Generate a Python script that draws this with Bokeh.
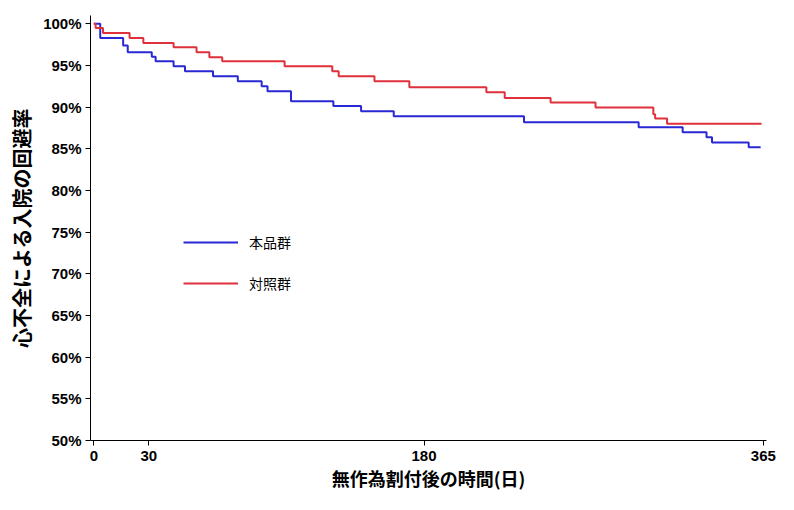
from bokeh.plotting import figure
from bokeh.models import Range1d, FixedTicker, Legend, LegendItem
from bokeh.embed import file_html
from bokeh.resources import INLINE

# ---- data ----
red_days = [0, 1, 5, 19.5, 27, 43.5, 56, 63, 70, 104, 130, 133.5, 153, 172, 214, 224, 249, 273.5, 305, 306, 312.5, 364]
red_pct = [100, 99.5, 98.9, 98.3, 97.7, 97.2, 96.6, 96.0, 95.5, 94.9, 94.3, 93.7, 93.1, 92.4, 91.8, 91.1, 90.55, 89.95, 89.15, 88.65, 88.0, 88.0]

blue_days = [0, 3.5, 16, 18.5, 31.6, 33.7, 43.5, 49.7, 65, 78.5, 91.5, 94.7, 107.5, 130.6, 145.7, 163.5, 234.5, 297, 321, 334, 337, 357, 363.5]
blue_pct = [100, 98.3, 97.4, 96.6, 96.06, 95.5, 94.9, 94.3, 93.7, 93.1, 92.5, 91.9, 90.7, 90.15, 89.5, 88.9, 88.2, 87.6, 87.0, 86.4, 85.75, 85.2, 85.2]

x_ticks = [0, 30, 180, 365]
y_ticks = [50, 55, 60, 65, 70, 75, 80, 85, 90, 95, 100]
y_tick_labels = [f"{v}%" for v in y_ticks]

series_names = ["本品群", "対照群"]
x_title = "無作為割付後の時間(日)"
y_title = "心不全による入院の回避率"

BLUE = "#2828d4"
RED = "#de313b"

p = figure(width=778, height=494, output_backend="svg", toolbar_location=None,
           x_range=Range1d(-1.8, 366.7), y_range=Range1d(50, 101),
           min_border_left=90, min_border_right=12, min_border_top=15, min_border_bottom=54)
p.outline_line_color = None
p.xgrid.grid_line_color = None
p.ygrid.grid_line_color = None
p.background_fill_color = "white"
p.border_fill_color = "white"

r_blue = p.step(blue_days, blue_pct, mode="after", line_color=BLUE, line_width=2)
r_red = p.step(red_days, red_pct, mode="after", line_color=RED, line_width=2)

for ax in (p.xaxis[0], p.yaxis[0]):
    ax.axis_line_color = "black"
    ax.axis_line_width = 1
    ax.major_tick_line_color = "black"
    ax.major_tick_out = 5
    ax.major_tick_in = 0
    ax.minor_tick_line_color = None
    ax.major_label_text_font = "Liberation Sans"
    ax.major_label_text_font_style = "bold"
    ax.major_label_text_font_size = "15px"
    ax.major_label_text_color = "black"
    ax.axis_label_text_font = "Noto Sans CJK JP"
    ax.axis_label_text_font_style = "bold"
    ax.axis_label_text_color = "black"

p.xaxis.ticker = FixedTicker(ticks=x_ticks)
p.yaxis.ticker = FixedTicker(ticks=y_ticks)
p.yaxis.major_label_overrides = {v: lab for v, lab in zip(y_ticks, y_tick_labels)}
p.xaxis.major_label_standoff = 5
p.yaxis.major_label_standoff = 4

p.xaxis.axis_label = x_title
p.xaxis.axis_label_text_font_size = "18px"
p.xaxis.axis_label_standoff = 1
p.yaxis.axis_label = y_title
p.yaxis.axis_label_text_font_size = "20px"
p.yaxis.axis_label_standoff = 4

legend = Legend(items=[LegendItem(label=series_names[0], renderers=[r_blue]),
                       LegendItem(label=series_names[1], renderers=[r_red])],
                location=(93, 147), orientation="vertical")
legend.border_line_color = None
legend.background_fill_alpha = 0
legend.padding = 0
legend.margin = 0
legend.spacing = 21
legend.glyph_width = 55
legend.glyph_height = 20
legend.label_height = 20
legend.label_standoff = 11
legend.label_text_font = "Noto Sans CJK JP"
legend.label_text_font_size = "14px"
legend.label_text_color = "black"
p.add_layout(legend, "center")

open("out.html", "w").write(file_html(p, INLINE))
